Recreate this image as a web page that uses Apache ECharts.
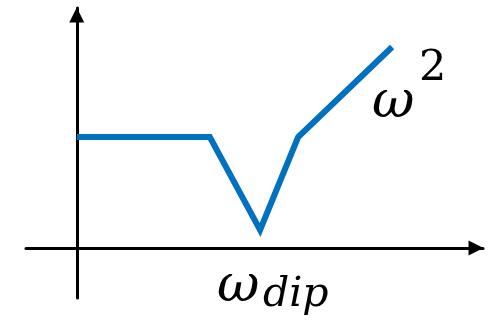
<!DOCTYPE html>
<html>
<head>
<meta charset="utf-8">
<script src="https://cdn.jsdelivr.net/npm/echarts@6/dist/echarts.min.js"></script>
<style>
  html, body { margin: 0; padding: 0; background: #fff; }
  #chart { width: 499px; height: 323px; }
</style>
</head>
<body>
<div id="chart"></div>
<script>
// Piecewise response: flat plateau, sharp dip, then rising branch
const xValues = [0, 2.62, 3.61, 4.36, 6.21];
const yValues = [2.22, 2.22, 0.36, 2.22, 4.02];

const lineData = xValues.map((x, i) => [x, yValues[i]]);

const chart = echarts.init(document.getElementById('chart'), null, { renderer: 'canvas' });

const axisLineStyle = { color: '#000', width: 3 };

chart.setOption({
  animation: false,
  backgroundColor: '#fff',
  grid: { left: 26, right: 16, top: 8, bottom: 25, containLabel: false },
  xAxis: {
    type: 'value', min: -1, max: 8,
    axisLine: {
      show: true, onZero: true,
      symbol: ['none', 'triangle'], symbolSize: [15, 15], symbolOffset: [0, -7],
      lineStyle: axisLineStyle
    },
    axisTick: { show: false }, axisLabel: { show: false }, splitLine: { show: false }
  },
  yAxis: {
    type: 'value', min: -1, max: 4.8,
    axisLine: {
      show: true, onZero: true,
      symbol: ['none', 'triangle'], symbolSize: [15, 15], symbolOffset: [0, -7],
      lineStyle: axisLineStyle
    },
    axisTick: { show: false }, axisLabel: { show: false }, splitLine: { show: false }
  },
  series: [{
    type: 'line',
    data: lineData,
    symbol: 'none',
    lineStyle: { color: '#0070C0', width: 6, cap: 'butt', join: 'miter' }
  }],
  graphic: [
    { type: 'text', left: 372, top: 77, style: { text: 'ω', font: 'italic 52px "DejaVu Serif"', fill: '#000' } },
    { type: 'text', left: 419, top: 47, style: { text: '2', font: '43px "DejaVu Serif"', fill: '#000' } },
    { type: 'text', left: 217, top: 261, style: { text: 'ω', font: 'italic 52px "DejaVu Serif"', fill: '#000' } },
    { type: 'text', left: 263, top: 275, style: { text: 'dip', font: 'italic 41px "DejaVu Serif"', fill: '#000' } }
  ]
});
</script>
</body>
</html>
